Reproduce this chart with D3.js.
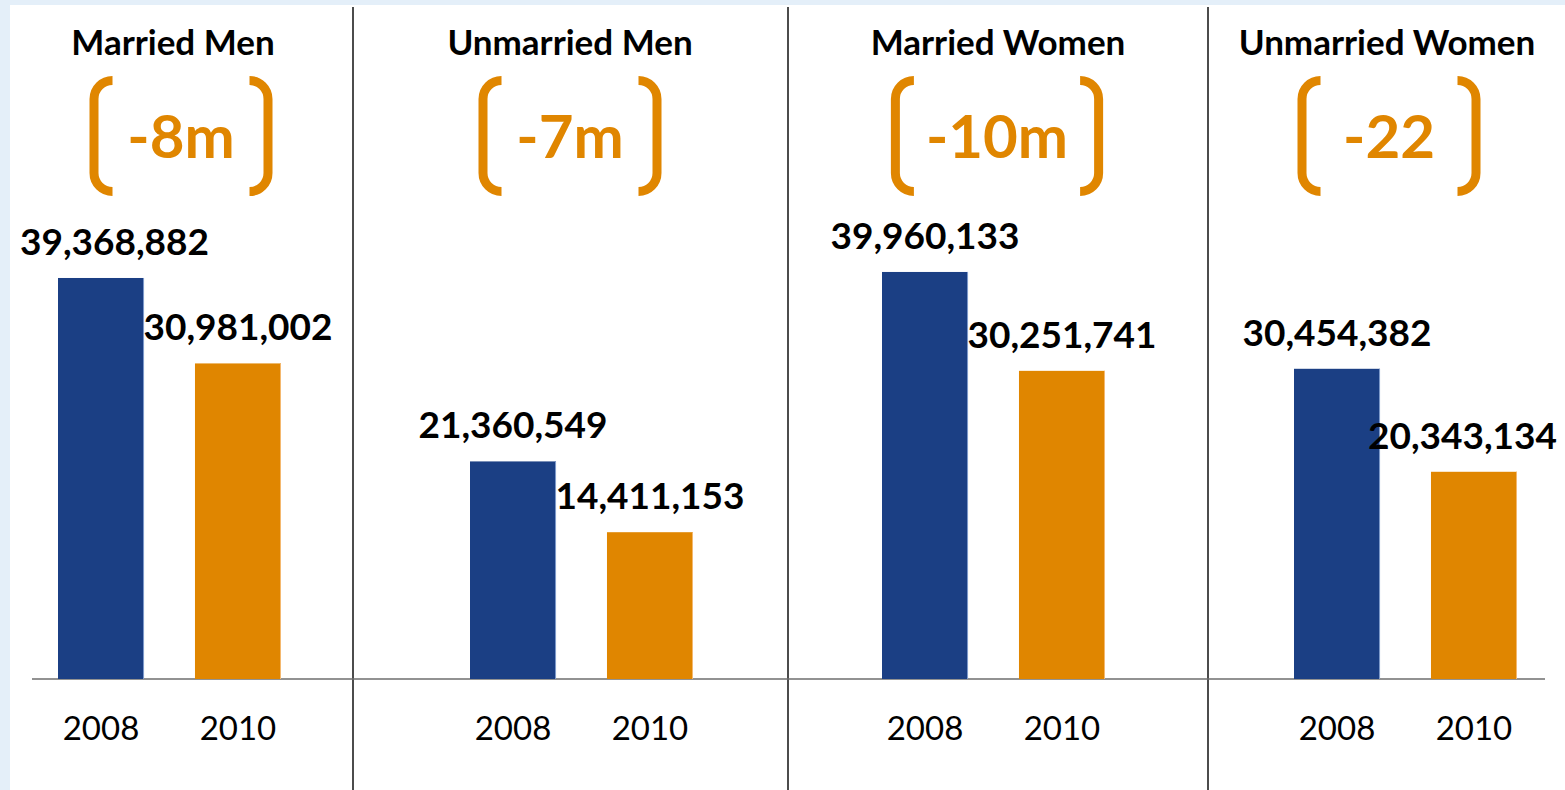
<!DOCTYPE html>
<meta charset="utf-8">
<style>
body { margin: 0; background: #e4eff9; }
svg { display: block; }
text { font-family: 'Lato', sans-serif; }
.title { font-weight: bold; font-size: 35px; fill: #000; }
.delta { font-weight: bold; font-size: 60px; fill: #e08600; }
.value { font-weight: bold; font-size: 37px; fill: #000; }
.year { font-size: 33px; fill: #000; }
.bracket { fill: none; stroke: #e08600; stroke-width: 9px; }
</style>
<body>
<svg width="1565" height="790"></svg>
<script src="https://d3js.org/d3.v7.min.js"></script>
<script>

var groups = ["Married Men", "Unmarried Men", "Married Women", "Unmarried Women"];
var years = ["2008", "2010"];
var values2008 = [39368882, 21360549, 39960133, 30454382];
var values2010 = [30981002, 14411153, 30251741, 20343134];
var deltas = ["-8m", "-7m", "-10m", "-22"];

// layout (not data)
var titleX = [173, 570, 998, 1387];
var bracketX = [181, 570, 997, 1389];
var dividerX = [353, 788, 1208];
var colors = {"2008": "#1b3f84", "2010": "#e08600"};
var edge = {"2008": "#7f9bcc", "2010": "#f4b86e"};

var svg = d3.select("svg");

svg.append("rect")
    .attr("x", 10).attr("y", 5)
    .attr("width", 1555).attr("height", 785)
    .attr("fill", "#fff");

var x0 = d3.scaleBand()
    .domain(groups)
    .range([32, 32 + 412 * 4]);

var x1 = d3.scaleBand()
    .domain(years)
    .range([26, 249])
    .paddingInner(0.372);

var y = d3.scaleLinear()
    .domain([0, 60000000])
    .range([679, 679 - 60 * 10.186]);

var data = groups.map(function(g, i) {
    return {
        group: g,
        delta: deltas[i],
        bars: [
            {year: "2008", value: values2008[i]},
            {year: "2010", value: values2010[i]}
        ]
    };
});

var fmt = d3.format(",");

// dividers
svg.selectAll(".divider")
    .data(dividerX)
    .enter().append("line")
    .attr("x1", function(d) { return d; })
    .attr("x2", function(d) { return d; })
    .attr("y1", 7)
    .attr("y2", 790)
    .attr("stroke", "#111")
    .attr("stroke-width", 1.5);

// baseline
svg.append("line")
    .attr("x1", 32).attr("x2", 1545)
    .attr("y1", y(0)).attr("y2", y(0))
    .attr("stroke", "#6e6e6e")
    .attr("stroke-width", 1.6);

var g = svg.selectAll(".group")
    .data(data)
    .enter().append("g")
    .attr("class", "group")
    .attr("transform", function(d) { return "translate(" + x0(d.group) + ",0)"; });

g.selectAll("rect.bar")
    .data(function(d) { return d.bars; })
    .enter().append("rect")
    .attr("class", "bar")
    .attr("x", function(d) { return x1(d.year); })
    .attr("y", function(d) { return y(d.value); })
    .attr("width", x1.bandwidth())
    .attr("height", function(d) { return y(0) - y(d.value); })
    .attr("fill", function(d) { return colors[d.year]; });

g.selectAll("line.edge")
    .data(function(d) { return d.bars; })
    .enter().append("line")
    .attr("x1", function(d) { return x1(d.year) + x1.bandwidth() - 0.5; })
    .attr("x2", function(d) { return x1(d.year) + x1.bandwidth() - 0.5; })
    .attr("y1", function(d) { return y(d.value); })
    .attr("y2", y(0))
    .attr("stroke", function(d) { return edge[d.year]; })
    .attr("stroke-width", 1);

g.selectAll("text.year")
    .data(function(d) { return d.bars; })
    .enter().append("text")
    .attr("class", "year")
    .attr("x", function(d) { return x1(d.year) + x1.bandwidth() / 2; })
    .attr("y", 740)
    .attr("text-anchor", "middle")
    .text(function(d) { return d.year; });

// value labels, kept inside the picture
data.forEach(function(d) {
    d.bars.forEach(function(b) {
        var cx = x0(d.group) + x1(b.year) + x1.bandwidth() / 2;
        var t = svg.append("text")
            .attr("class", "value")
            .attr("text-anchor", "middle")
            .attr("y", y(b.value) - 23)
            .text(fmt(b.value));
        var w = t.node().getComputedTextLength();
        if (cx - w / 2 < 20) cx = 20 + w / 2;
        if (cx + w / 2 > 1557) cx = 1557 - w / 2;
        t.attr("x", cx);
    });
});

// titles
svg.selectAll(".title")
    .data(data)
    .enter().append("text")
    .attr("class", "title")
    .attr("x", function(d, i) { return titleX[i]; })
    .attr("y", 55)
    .attr("text-anchor", "middle")
    .text(function(d) { return d.group; });

// deltas with brackets
data.forEach(function(d, i) {
    var cx = bracketX[i];
    var t = svg.append("text")
        .attr("class", "delta")
        .attr("x", cx)
        .attr("y", 158)
        .attr("text-anchor", "middle")
        .text(d.delta);
    var w = t.node().getComputedTextLength();
    var inner = Math.max(137, w + 24);
    var top = 80.5, bot = 191.5, r = 18.5;
    var xl = cx - inner / 2 - r, xr = cx + inner / 2 + r;
    svg.append("path")
        .attr("class", "bracket")
        .attr("d", "M" + (xl + r) + "," + top +
            " A" + r + "," + r + " 0 0 0 " + xl + "," + (top + r) +
            " L" + xl + "," + (bot - r) +
            " A" + r + "," + r + " 0 0 0 " + (xl + r) + "," + bot);
    svg.append("path")
        .attr("class", "bracket")
        .attr("d", "M" + (xr - r) + "," + top +
            " A" + r + "," + r + " 0 0 1 " + xr + "," + (top + r) +
            " L" + xr + "," + (bot - r) +
            " A" + r + "," + r + " 0 0 1 " + (xr - r) + "," + bot);
});

</script>
</body>
